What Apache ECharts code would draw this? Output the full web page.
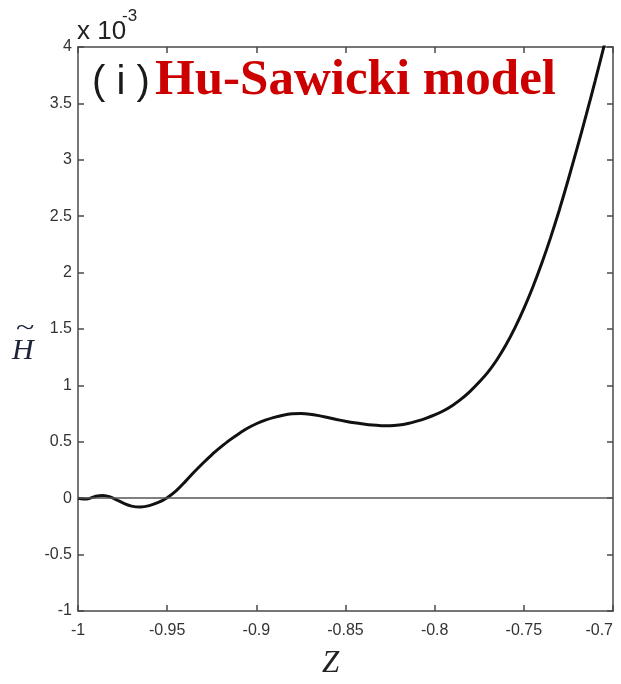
<!DOCTYPE html>
<html>
<head>
<meta charset="utf-8">
<title>Hu-Sawicki model</title>
<script src="https://cdn.jsdelivr.net/npm/echarts@6/dist/echarts.min.js"></script>
<style>
  html, body { margin: 0; padding: 0; background: #fff; }
  #chart { width: 621px; height: 684px; }
</style>
</head>
<body>
<div id="chart"></div>
<script>
// Z and the perturbation H~ (in units of 1e-3)
const zValues = [
  -1.000, -0.995, -0.990, -0.986, -0.982, -0.978, -0.974, -0.970, -0.965, -0.960,
  -0.955, -0.950, -0.945, -0.940, -0.935, -0.930, -0.925, -0.920, -0.915, -0.910,
  -0.905, -0.900, -0.895, -0.890, -0.885, -0.880, -0.875, -0.870, -0.865, -0.860,
  -0.855, -0.850, -0.845, -0.840, -0.835, -0.830, -0.825, -0.820, -0.815, -0.810,
  -0.805, -0.800, -0.795, -0.790, -0.785, -0.780, -0.775, -0.770, -0.765, -0.760,
  -0.755, -0.750, -0.745, -0.740, -0.735, -0.730, -0.725, -0.720, -0.715, -0.710,
  -0.705, -0.700];
const hValues = [
  0.000, -0.008, 0.018, 0.025, 0.012, -0.018, -0.048, -0.070, -0.078, -0.066,
  -0.038, 0.005, 0.065, 0.145, 0.230, 0.310, 0.385, 0.452, 0.515, 0.570,
  0.620, 0.660, 0.692, 0.717, 0.736, 0.748, 0.750, 0.745, 0.732, 0.715,
  0.698, 0.682, 0.668, 0.657, 0.648, 0.643, 0.642, 0.648, 0.662, 0.683,
  0.708, 0.738, 0.775, 0.822, 0.880, 0.950, 1.030, 1.120, 1.230, 1.360,
  1.510, 1.680, 1.870, 2.080, 2.310, 2.560, 2.830, 3.110, 3.400, 3.700,
  4.010, 4.320];

const xMin = -1, xMax = -0.7, xStep = 0.05;
const yMin = -1, yMax = 4, yStep = 0.5;

const curve = zValues.map((z, i) => [z, hValues[i]]);

const axisColor = '#4a4a4a';
const tickFont = { fontFamily: 'Liberation Sans, Arial, sans-serif', fontSize: 16, color: '#333' };

const chart = echarts.init(document.getElementById('chart'), null, { renderer: 'canvas' });

chart.setOption({
  backgroundColor: '#ffffff',
  animation: false,
  grid: { left: 78, right: 8, top: 47, bottom: 73, containLabel: false, outerBoundsMode: 'none' },
  xAxis: [
    {
      type: 'value', min: xMin, max: xMax, interval: xStep, position: 'bottom',
      axisLine: { show: true, onZero: false, lineStyle: { color: axisColor, width: 1.5 } },
      axisTick: { show: true, inside: true, length: 6, lineStyle: { color: axisColor, width: 1.5 } },
      axisLabel: Object.assign({ margin: 12, alignMaxLabel: 'right' }, tickFont),
      splitLine: { show: false }
    },
    {
      type: 'value', min: xMin, max: xMax, interval: xStep, position: 'top',
      axisLine: { show: true, onZero: false, lineStyle: { color: axisColor, width: 1.5 } },
      axisTick: { show: true, inside: true, length: 6, lineStyle: { color: axisColor, width: 1.5 } },
      axisLabel: { show: false },
      splitLine: { show: false }
    }
  ],
  yAxis: [
    {
      type: 'value', min: yMin, max: yMax, interval: yStep, position: 'left',
      axisLine: { show: true, onZero: false, lineStyle: { color: axisColor, width: 1.5 } },
      axisTick: { show: true, inside: true, length: 6, lineStyle: { color: axisColor, width: 1.5 } },
      axisLabel: Object.assign({ margin: 6 }, tickFont),
      splitLine: { show: false }
    },
    {
      type: 'value', min: yMin, max: yMax, interval: yStep, position: 'right',
      axisLine: { show: true, onZero: false, lineStyle: { color: axisColor, width: 1.5 } },
      axisTick: { show: true, inside: true, length: 6, lineStyle: { color: axisColor, width: 1.5 } },
      axisLabel: { show: false },
      splitLine: { show: false }
    }
  ],
  series: [
    {
      type: 'line',
      xAxisIndex: 0, yAxisIndex: 0,
      data: curve,
      smooth: 0.25,
      showSymbol: false,
      clip: true,
      lineStyle: { color: '#111', width: 3 },
      markLine: {
        silent: true,
        symbol: ['none', 'none'],
        label: { show: false },
        lineStyle: { color: '#555', width: 1.5, type: 'solid' },
        data: [{ yAxis: 0 }]
      },
      z: 3
    }
  ],
  graphic: [
    // exponent of the y axis
    {
      type: 'text', left: 77, top: 19,
      style: { text: 'x 10', font: '26px "Liberation Sans Narrow", "Liberation Sans", Arial, sans-serif', fill: '#222' }
    },
    {
      type: 'text', left: 122, top: 8,
      style: { text: '-3', font: '17px "Liberation Sans", Arial, sans-serif', fill: '#222' }
    },
    // panel tag and title
    {
      type: 'text', left: 92, top: 63,
      style: { text: '( i )', font: '40px "Liberation Sans", Arial, sans-serif', fill: '#1a1a1a' }
    },
    {
      type: 'text', left: 155, top: 55,
      style: { text: 'Hu-Sawicki model', font: 'bold 51px "Liberation Serif", "Times New Roman", serif', fill: '#cc0000' }
    },
    // y axis name: H with a tilde
    {
      type: 'text', left: 12, top: 336,
      style: { text: 'H', font: 'italic 30px "Liberation Serif", "Times New Roman", serif', fill: '#1c2238' }
    },
    {
      type: 'text', left: 16, top: 315, scaleX: 1.3,
      style: { text: '~', font: '26px "Liberation Serif", "Times New Roman", serif', fill: '#1c2238' }
    },
    // x axis name
    {
      type: 'text', left: 322, top: 648,
      style: { text: 'Z', font: 'italic 31px "Liberation Serif", "Times New Roman", serif', fill: '#222' }
    }
  ]
});
</script>
</body>
</html>
